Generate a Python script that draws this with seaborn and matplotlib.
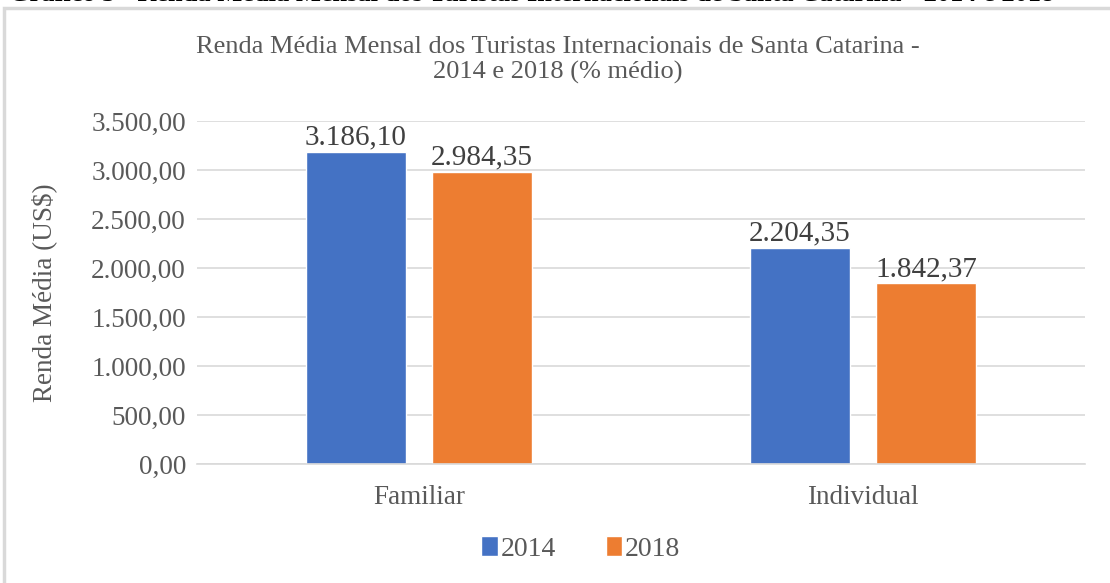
import numpy as np
import pandas as pd
import seaborn as sns
import matplotlib.pyplot as plt
from matplotlib.patches import Rectangle
from matplotlib.ticker import FuncFormatter

# dados
categorias = ['Familiar', 'Individual']
anos = ['2014', '2018']
renda_2014 = [3186.10, 2204.35]
renda_2018 = [2984.35, 1842.37]
cores = ['#4472C4', '#ED7D31']

df = pd.DataFrame({
    'Tipo': categorias * 2,
    'Ano': [anos[0]] * 2 + [anos[1]] * 2,
    'Renda': renda_2014 + renda_2018,
})

def br(v, casas=2):
    s = f'{v:,.{casas}f}'
    return s.replace(',', 'X').replace('.', ',').replace('X', '.')

sns.set_theme(style='white')
plt.rcParams['font.family'] = ['Liberation Serif', 'DejaVu Serif']

fig = plt.figure(figsize=(11.1, 5.83), dpi=100)

# moldura do grafico (borda cinza)
fig.patches.append(Rectangle((4 / 1110, -0.05), 1.2, 1 - 8 / 583 + 0.05,
                             transform=fig.transFigure, fill=False,
                             edgecolor='#D9D9D9', linewidth=2.5))

# cabecalho cortado no topo
fig.text(532 / 1110, 1 - 1 / 583,
         'Gráfico 3 - Renda Média Mensal dos Turistas Internacionais de Santa Catarina - 2014 e 2018',
         ha='center', va='baseline', fontsize=19, fontweight='bold', color='black')

ax = fig.add_axes([197 / 1110, 1 - 464 / 583, 888 / 1110, 343 / 583])
sns.barplot(data=df, x='Tipo', y='Renda', hue='Ano', palette=cores,
            width=0.568, gap=0.214, ax=ax, legend=True, saturation=1)

ax.set_xlim(-0.5, 1.5)
ax.set_ylim(0, 3500)
ax.set_yticks(np.arange(0, 3501, 500))
ax.yaxis.set_major_formatter(FuncFormatter(lambda v, p: br(v)))
ax.grid(axis='y', color='#D9D9D9', linewidth=1.2)
ax.set_axisbelow(True)
for s in ['top', 'right', 'left']:
    ax.spines[s].set_visible(False)
ax.spines['bottom'].set_color('#D9D9D9')
ax.spines['bottom'].set_linewidth(1.2)
ax.tick_params(axis='both', length=0, labelsize=19.5, labelcolor='#595959', pad=8)
ax.tick_params(axis='x', pad=15)
ax.set_xlabel('')
ax.set_ylabel('Renda Média (US$)', fontsize=19.5, color='#595959')
ax.yaxis.set_label_coords(-0.157, 0.5)

for cont in ax.containers:
    ax.bar_label(cont, labels=[br(v) for v in cont.datavalues], fontsize=21,
                 color='#404040', padding=1)

# titulo centrado na area do grafico
fig.text(558 / 1110, 1 - 60 / 583,
         'Renda Média Mensal dos Turistas Internacionais de Santa Catarina -\n2014 e 2018 (% médio)',
         ha='center', va='center', multialignment='center',
         fontsize=19, color='#595959', linespacing=1.15)

handles, labels = ax.get_legend_handles_labels()
ax.legend(handles, labels, loc='center', bbox_to_anchor=(0.432, -0.248), ncol=2,
          frameon=False, fontsize=20, labelcolor='#595959', handlelength=0.6,
          handleheight=0.75, handletextpad=0.1, columnspacing=1.8)

fig.savefig('out.png', dpi=100)
